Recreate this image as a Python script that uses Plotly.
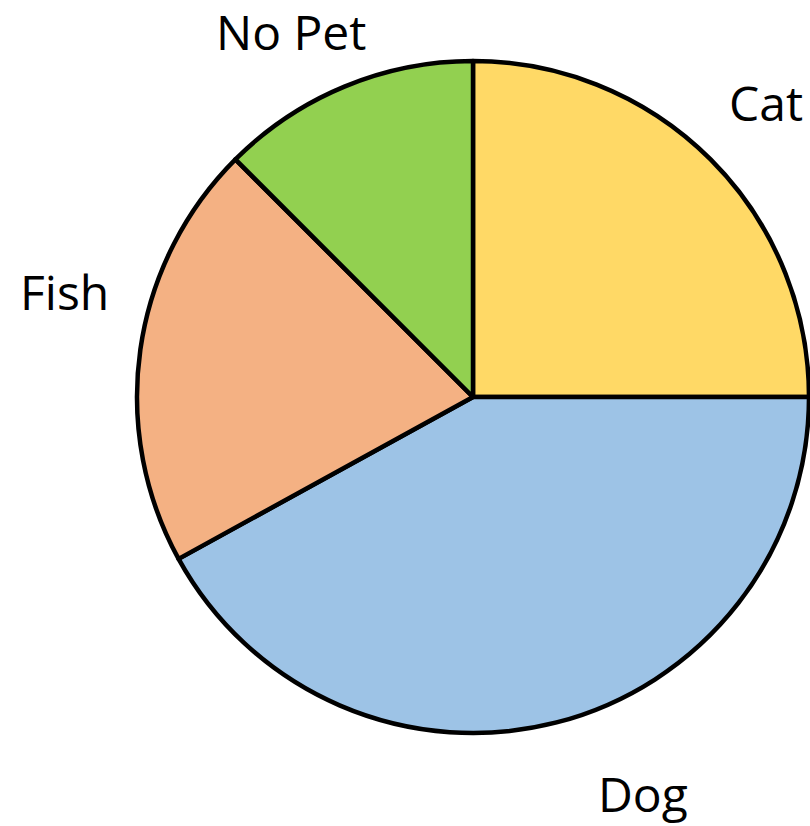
import plotly.graph_objects as go

# Pet ownership shares (percent)
labels = ["Cat", "Dog", "Fish", "No Pet"]
values = [25, 42, 20.5, 12.5]
colors = ["#FFD966", "#9DC3E6", "#F4B183", "#92D050"]

# Label anchor points in paper coordinates (middle of each text box)
label_x = [766 / 810, 643 / 810, 64 / 810, 291 / 810]
label_y = [1 - 103 / 826, 1 - 793 / 826, 1 - 291 / 826, 1 - 32 / 826]

W, H = 810, 826
cx, cy, r = 473, 397, 336

fig = go.Figure(
    go.Pie(
        labels=labels,
        values=values,
        sort=False,
        direction="clockwise",
        rotation=0,
        marker=dict(colors=colors, line=dict(color="black", width=4.5)),
        textinfo="none",
        hoverinfo="label+percent",
        domain=dict(
            x=[(cx - r) / W, (cx + r) / W],
            y=[1 - (cy + r) / H, 1 - (cy - r) / H],
        ),
    )
)

for name, x, y in zip(labels, label_x, label_y):
    fig.add_annotation(
        text=name, x=x, y=y, xref="paper", yref="paper",
        xanchor="center", yanchor="middle", showarrow=False,
        font=dict(family="Open Sans", size=48, color="black"),
    )

fig.update_layout(
    width=W, height=H,
    margin=dict(l=0, r=0, t=0, b=0),
    paper_bgcolor="white",
    showlegend=False,
)

fig.write_html("out.html")
